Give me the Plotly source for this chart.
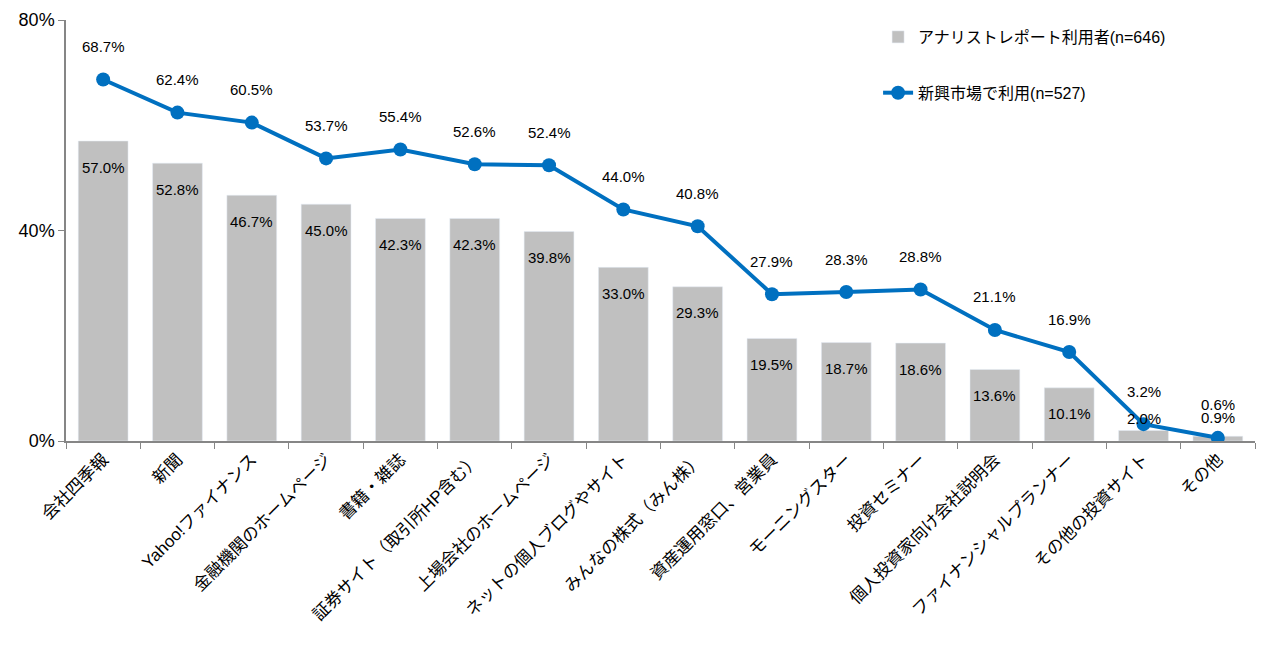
import plotly.graph_objects as go

categories = ["会社四季報", "新聞", "Yahoo!ファイナンス", "金融機関のホームページ", "書籍・雑誌",
              "証券サイト（取引所HP含む）", "上場会社のホームページ", "ネットの個人ブログやサイト",
              "みんなの株式（みん株）", "資産運用窓口、営業員", "モーニングスター", "投資セミナー",
              "個人投資家向け会社説明会", "ファイナンシャルプランナー", "その他の投資サイト", "その他"]
analyst_users = [57.0, 52.8, 46.7, 45.0, 42.3, 42.3, 39.8, 33.0, 29.3, 19.5, 18.7, 18.6, 13.6, 10.1, 2.0, 0.9]
emerging_users = [68.7, 62.4, 60.5, 53.7, 55.4, 52.6, 52.4, 44.0, 40.8, 27.9, 28.3, 28.8, 21.1, 16.9, 3.2, 0.6]
bar_name = "アナリストレポート利用者(n=646)"
line_name = "新興市場で利用(n=527)"
y_ticks = [0, 40, 80]
y_tick_text = ["0%", "40%", "80%"]

FONT = "Liberation Sans, Arial, Noto Sans CJK JP, sans-serif"
H, MT, MB = 647, 12, 214
Y_MAX = 80
px_per_unit = (H - MT - MB) / Y_MAX

fig = go.Figure()
fig.add_trace(go.Bar(x=categories, y=analyst_users, name=bar_name, marker_color="#C0C0C0",
                     legendgroup="a"))
fig.add_trace(go.Scatter(x=categories, y=emerging_users, name=line_name, mode="lines+markers",
                         line=dict(color="#0070C0", width=4), marker=dict(size=14, color="#0070C0"),
                         legendgroup="b"))

for c, v in zip(categories, analyst_users):
    shift = max(-26, 23 - v * px_per_unit)
    fig.add_annotation(x=c, y=v, text=f"{v:.1f}%", showarrow=False, yshift=shift,
                       font=dict(size=15, color="#000000", family=FONT))
for c, v in zip(categories, emerging_users):
    fig.add_annotation(x=c, y=v, text=f"{v:.1f}%", showarrow=False, yshift=33,
                       font=dict(size=15, color="#000000", family=FONT))

fig.update_layout(
    width=1265, height=H,
    margin=dict(l=58, r=18, t=MT, b=MB),
    plot_bgcolor="white", paper_bgcolor="white",
    font=dict(family=FONT, size=16, color="#000000"),
    bargap=0.33,
    showlegend=True,
    legend=dict(x=0.683, y=1.0, xanchor="left", yanchor="top", font=dict(size=16),
                tracegroupgap=32, bgcolor="rgba(0,0,0,0)"),
    xaxis=dict(type="category", range=[-0.5, len(categories) - 0.5], tickangle=-45, showline=True,
               linecolor="#868686", linewidth=1.5, ticks="outside", tickson="boundaries", ticklen=6,
               tickcolor="#868686", tickfont=dict(size=17, family=FONT), automargin=False),
    yaxis=dict(range=[0, Y_MAX], tickvals=y_ticks, ticktext=y_tick_text, showline=True,
               linecolor="#868686", linewidth=1.5, ticks="outside", ticklen=6, tickcolor="#868686",
               showgrid=False, zeroline=False, tickfont=dict(size=18, family=FONT), automargin=False),
)

fig.write_html("out.html")
